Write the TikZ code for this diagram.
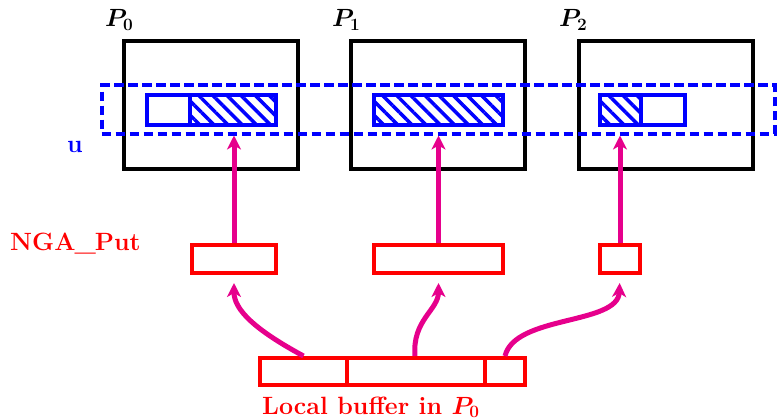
\documentclass[tikz,border=0pt]{standalone}
\usetikzlibrary{arrows.meta,patterns.meta}
\definecolor{mag}{RGB}{230,0,140}
\begin{document}
\begin{tikzpicture}[x=1pt,y=-1pt,
  pbox/.style={draw=black,line width=4.5pt,minimum width=174pt,minimum height=128pt,inner sep=0pt},
  ubox/.style={draw=blue,line width=4pt,minimum height=30pt,inner sep=0pt},
  rbox/.style={draw=red,line width=4pt,minimum height=28pt,inner sep=0pt},
  hatch/.style={pattern={Lines[angle=-45,distance=10pt,line width=3.5pt]},pattern color=blue},
  put/.style={draw=mag,line width=5pt,-{Stealth[length=14pt,width=14pt,inset=4pt]}},
  lbl/.style={font=\fontsize{25}{30}\selectfont\bfseries\boldmath,inner sep=0pt}]
\useasboundingbox (0,0) rectangle (777,420);
% processes
\node[pbox] (p0) at (211,105) {};
\node[pbox] (p1) at (438,105) {};
\node[pbox] (p2) at (666,105) {};
\node[lbl,anchor=base west] (lp0) at (105,27) {$P_0$};
\node[lbl,anchor=base west] (lp1) at (332,27) {$P_1$};
\node[lbl,anchor=base west] (lp2) at (559,27) {$P_2$};
% global array u
\node[draw=blue,line width=4pt,dash pattern=on 9.5pt off 4.5pt,minimum width=673pt,minimum height=48pt,inner sep=0pt] (u) at (438,109.5) {};
\node[lbl,text=blue,anchor=base] (lu) at (75,152) {u};
% local parts of u
\node[ubox,minimum width=43pt] (u0a) at (168.5,110) {};
\node[ubox,hatch,minimum width=86pt] (u0b) at (233,110) {};
\node[ubox,hatch,minimum width=129pt] (u1) at (438.5,110) {};
\node[ubox,hatch,minimum width=41pt] (u2a) at (620.5,110) {};
\node[ubox,minimum width=44pt] (u2b) at (663,110) {};
% NGA_Put boxes
\node[rbox,minimum width=84pt] (r0) at (234,259) {};
\node[rbox,minimum width=129pt] (r1) at (438.5,259) {};
\node[rbox,minimum width=40pt] (r2) at (620,259) {};
\node[lbl,text=red,anchor=base west] (lput) at (10,250) {NGA\kern-1pt\_\kern-1ptPut};
% local buffer
\node[rbox,minimum width=87pt,minimum height=27pt] (lb1) at (303.5,371.5) {};
\node[rbox,minimum width=138pt,minimum height=27pt] (lb2) at (416,371.5) {};
\node[rbox,minimum width=40pt,minimum height=27pt] (lb3) at (505,371.5) {};
\node[lbl,text=red,anchor=base west] (llb) at (262,414) {Local buffer in $P_0$};
% straight arrows
\draw[put] (r0.north) -- (r0.north |- u.south);
\draw[put] (r1.north) -- (r1.north |- u.south);
\draw[put] (r2.north) -- (r2.north |- u.south);
% curved arrows
\draw[put,shorten >=8pt] (lb1.north) .. controls +(-48,-26) and +(0,35) .. (r0.south);
\draw[put,shorten >=8pt] ([xshift=-1pt]lb2.north) .. controls +(-3,-36) and +(0,35) .. (r1.south);
\draw[put,shorten >=8pt] (lb3.north) .. controls +(10,-41) and +(-2,50) .. (r2.south);
\end{tikzpicture}
\end{document}
